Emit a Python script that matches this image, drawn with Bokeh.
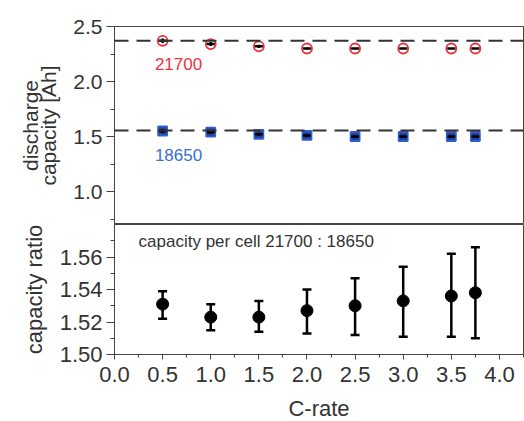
from bokeh.plotting import figure
from bokeh.layouts import column
from bokeh.models import (ColumnDataSource, Span, Whisker, TeeHead,
                          FixedTicker, PrintfTickFormatter, Range1d)
from bokeh.core.properties import value
from bokeh.embed import file_html
from bokeh.resources import INLINE

# ---- data ----
c_rate = [0.5, 1.0, 1.5, 2.0, 2.5, 3.0, 3.5, 3.75]
cap_21700 = [2.37, 2.34, 2.32, 2.30, 2.30, 2.30, 2.30, 2.30]
err_21700 = [0.020, 0.018, 0.015, 0.008, 0.006, 0.005, 0.004, 0.004]
cap_18650 = [1.55, 1.54, 1.52, 1.51, 1.50, 1.50, 1.50, 1.50]
err_18650 = [0.018, 0.016, 0.014, 0.010, 0.008, 0.007, 0.006, 0.006]
ref_21700 = 2.37
ref_18650 = 1.555
ratio = [1.531, 1.523, 1.523, 1.527, 1.530, 1.533, 1.536, 1.538]
ratio_upper = [1.539, 1.531, 1.533, 1.540, 1.547, 1.554, 1.562, 1.566]
ratio_lower = [1.522, 1.515, 1.514, 1.513, 1.512, 1.511, 1.511, 1.510]

x_ticks = [0.0, 0.5, 1.0, 1.5, 2.0, 2.5, 3.0, 3.5, 4.0]
y1_ticks = [1.0, 1.5, 2.0, 2.5]
y2_ticks = [1.50, 1.52, 1.54, 1.56]

FONT = "Liberation Sans"
TXT = "#333333"
AX = "#444444"


def style_axis(ax, ticker, fmt, label_size="21px"):
    ax.ticker = ticker
    ax.formatter = PrintfTickFormatter(format=fmt)
    ax.major_label_text_font = FONT
    ax.major_label_text_font_size = label_size
    ax.major_label_text_color = TXT
    ax.axis_label_text_font = FONT
    ax.axis_label_text_font_size = "22px"
    ax.axis_label_text_font_style = "normal"
    ax.axis_label_text_color = TXT
    ax.axis_line_color = AX
    ax.major_tick_line_color = AX
    ax.minor_tick_line_color = AX
    ax.major_tick_out = 8
    ax.major_tick_in = 0
    ax.minor_tick_out = 4
    ax.minor_tick_in = 0
    ax.major_label_standoff = 4
    ax.axis_label_standoff = 10


# ---- top panel ----
p1 = figure(width=525, height=224, output_backend="svg", toolbar_location=None,
            x_range=Range1d(0, 4.25), y_range=Range1d(0.7, 2.5),
            x_axis_location=None,
            min_border_left=114, min_border_right=2, min_border_top=26, min_border_bottom=0)
p1.grid.visible = False
p1.outline_line_color = AX
p1.outline_line_width = 1

y1_minor = [0.75, 1.25, 1.75, 2.25]
style_axis(p1.yaxis[0], FixedTicker(ticks=y1_ticks, minor_ticks=y1_minor), "%.1f")
p1.yaxis[0].axis_label = "discharge\ncapacity [Ah]"
p1.yaxis[0].axis_label_text_font_size = "21px"
p1.yaxis[0].axis_label_text_line_height = 0.8

for ref in (ref_21700, ref_18650):
    p1.add_layout(Span(location=ref, dimension="width", line_color="#333333",
                       line_width=2, line_dash="14 8"))

s21 = ColumnDataSource(dict(x=c_rate, y=cap_21700,
                            up=[c + e for c, e in zip(cap_21700, err_21700)],
                            lo=[c - e for c, e in zip(cap_21700, err_21700)]))
s18 = ColumnDataSource(dict(x=c_rate, y=cap_18650,
                            up=[c + e for c, e in zip(cap_18650, err_18650)],
                            lo=[c - e for c, e in zip(cap_18650, err_18650)]))

p1.scatter("x", "y", source=s21, marker="circle", size=10, fill_color="white",
           line_color="#e8323c", line_width=1.8)
p1.scatter("x", "y", source=s18, marker="square", size=9, fill_color="#27408f",
           line_color="#2f5fd8", line_width=1.8)
for src in (s21, s18):
    p1.segment(x0="x", y0="lo", x1="x", y1="up", source=src, line_color="black", line_width=2.5)
    p1.scatter("x", "y", source=src, marker="dash", size=8, line_color="black", line_width=2.5)

p1.text(x=[0.42], y=[2.155], text=["21700"], text_color="#e8323c",
        text_font=value(FONT), text_font_size="17px",
        text_align="left", text_baseline="middle")
p1.text(x=[0.42], y=[1.335], text=["18650"], text_color="#3a6fd0",
        text_font=value(FONT), text_font_size="17px",
        text_align="left", text_baseline="middle")

# ---- bottom panel ----
p2 = figure(width=525, height=199, output_backend="svg", toolbar_location=None,
            x_range=p1.x_range, y_range=Range1d(1.50, 1.58),
            min_border_left=114, min_border_right=2, min_border_top=0, min_border_bottom=67)
p2.grid.visible = False
p2.outline_line_color = AX
p2.outline_line_width = 1

x_minor = [0.25, 0.75, 1.25, 1.75, 2.25, 2.75, 3.25, 3.75, 4.25]
y2_minor = [1.51, 1.53, 1.55, 1.57]
style_axis(p2.xaxis[0], FixedTicker(ticks=x_ticks, minor_ticks=x_minor), "%.1f", "22px")
p2.xaxis[0].axis_label = "C-rate"
p2.xaxis[0].major_tick_out = 5
p2.xaxis[0].minor_tick_out = 3
p2.xaxis[0].major_label_standoff = 7
p2.xaxis[0].axis_label_standoff = 11
style_axis(p2.yaxis[0], FixedTicker(ticks=y2_ticks, minor_ticks=y2_minor), "%.2f", "22px")
p2.yaxis[0].axis_label = "capacity ratio"

sr = ColumnDataSource(dict(x=c_rate, y=ratio, up=ratio_upper, lo=ratio_lower))
p2.add_layout(Whisker(source=sr, base="x", upper="up", lower="lo",
                      line_color="black", line_width=2.5,
                      upper_head=TeeHead(size=9, line_width=2.5, line_color="black"),
                      lower_head=TeeHead(size=9, line_width=2.5, line_color="black")))
p2.scatter("x", "y", source=sr, marker="circle", size=12, fill_color="black",
           line_color="black")

p2.text(x=[0.25], y=[1.5697], text=["capacity per cell 21700 : 18650"],
        text_color="#333333", text_font=value(FONT), text_font_size="17px",
        text_align="left", text_baseline="middle")

layout = column(p1, p2, spacing=0)
open("out.html", "w").write(file_html(layout, INLINE))
